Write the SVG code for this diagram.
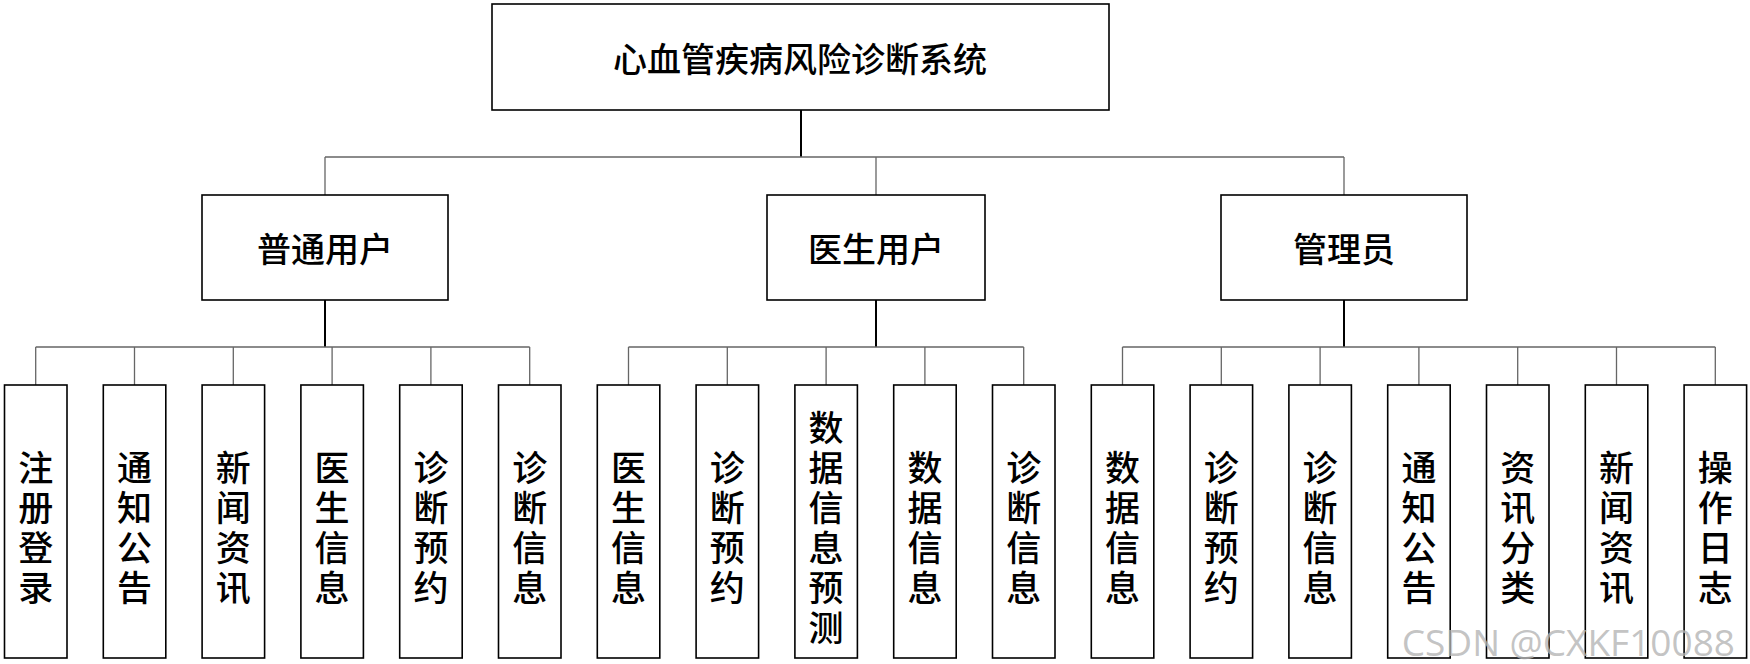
<svg xmlns="http://www.w3.org/2000/svg" width="1750" height="664" viewBox="0 0 1750 664">
<style>
.b{fill:#fff;stroke:#000;stroke-width:1.6}
.t{font-family:"Noto Sans CJK SC",sans-serif;font-size:34px;font-weight:500;text-anchor:middle;dominant-baseline:central;fill:#000}
.v{font-family:"Noto Sans CJK SC",sans-serif;font-size:35px;font-weight:500;text-anchor:middle;dominant-baseline:central;fill:#000}
.th{stroke:#000;stroke-width:2;fill:none}
.tn{stroke:#666;stroke-width:1.3;fill:none}
</style>
<g id="connectors">
<path class="th" d="M801 110V157M325 300V347M876 300V347M1344 300V347"/>
<path class="tn" d="M325 157H1344M325 157V195M876 157V195M1344 157V195"/>
<path class="tn" d="M35.7 347H529.7M628.5 347H1023.7M1122.5 347H1715.3"/>
<path class="tn" d="M35.7 347V385M134.5 347V385M233.3 347V385M332.1 347V385M430.9 347V385M529.7 347V385M628.5 347V385M727.3 347V385M826.1 347V385M924.9 347V385M1023.7 347V385M1122.5 347V385M1221.3 347V385M1320.1 347V385M1418.9 347V385M1517.7 347V385M1616.5 347V385M1715.3 347V385"/>
</g>
<g id="root"><rect class="b" x="492" y="4" width="617" height="106"/><text class="t" x="800" y="57">心血管疾病风险诊断系统</text></g>
<g id="u1"><rect class="b" x="202" y="195" width="246" height="105"/><text class="t" x="325" y="247">普通用户</text></g>
<g id="u2"><rect class="b" x="767" y="195" width="218" height="105"/><text class="t" x="876" y="247">医生用户</text></g>
<g id="u3"><rect class="b" x="1221" y="195" width="246" height="105"/><text class="t" x="1344" y="247">管理员</text></g>
<g id="leaves">
<g id="n0"><rect class="b" x="4.5" y="385" width="62.5" height="273"/><text class="v" x="35.7"><tspan x="35.7" y="465">注</tspan><tspan x="35.7" y="505">册</tspan><tspan x="35.7" y="545">登</tspan><tspan x="35.7" y="585">录</tspan></text></g>
<g id="n1"><rect class="b" x="103.3" y="385" width="62.5" height="273"/><text class="v"><tspan x="134.5" y="465">通</tspan><tspan x="134.5" y="505">知</tspan><tspan x="134.5" y="545">公</tspan><tspan x="134.5" y="585">告</tspan></text></g>
<g id="n2"><rect class="b" x="202.1" y="385" width="62.5" height="273"/><text class="v"><tspan x="233.3" y="465">新</tspan><tspan x="233.3" y="505">闻</tspan><tspan x="233.3" y="545">资</tspan><tspan x="233.3" y="585">讯</tspan></text></g>
<g id="n3"><rect class="b" x="300.9" y="385" width="62.5" height="273"/><text class="v"><tspan x="332.1" y="465">医</tspan><tspan x="332.1" y="505">生</tspan><tspan x="332.1" y="545">信</tspan><tspan x="332.1" y="585">息</tspan></text></g>
<g id="n4"><rect class="b" x="399.7" y="385" width="62.5" height="273"/><text class="v"><tspan x="430.9" y="465">诊</tspan><tspan x="430.9" y="505">断</tspan><tspan x="430.9" y="545">预</tspan><tspan x="430.9" y="585">约</tspan></text></g>
<g id="n5"><rect class="b" x="498.5" y="385" width="62.5" height="273"/><text class="v"><tspan x="529.7" y="465">诊</tspan><tspan x="529.7" y="505">断</tspan><tspan x="529.7" y="545">信</tspan><tspan x="529.7" y="585">息</tspan></text></g>
<g id="n6"><rect class="b" x="597.3" y="385" width="62.5" height="273"/><text class="v"><tspan x="628.5" y="465">医</tspan><tspan x="628.5" y="505">生</tspan><tspan x="628.5" y="545">信</tspan><tspan x="628.5" y="585">息</tspan></text></g>
<g id="n7"><rect class="b" x="696.1" y="385" width="62.5" height="273"/><text class="v"><tspan x="727.3" y="465">诊</tspan><tspan x="727.3" y="505">断</tspan><tspan x="727.3" y="545">预</tspan><tspan x="727.3" y="585">约</tspan></text></g>
<g id="n8"><rect class="b" x="794.9" y="385" width="62.5" height="273"/><text class="v"><tspan x="826.1" y="425">数</tspan><tspan x="826.1" y="465">据</tspan><tspan x="826.1" y="505">信</tspan><tspan x="826.1" y="545">息</tspan><tspan x="826.1" y="585">预</tspan><tspan x="826.1" y="625">测</tspan></text></g>
<g id="n9"><rect class="b" x="893.7" y="385" width="62.5" height="273"/><text class="v"><tspan x="924.9" y="465">数</tspan><tspan x="924.9" y="505">据</tspan><tspan x="924.9" y="545">信</tspan><tspan x="924.9" y="585">息</tspan></text></g>
<g id="n10"><rect class="b" x="992.5" y="385" width="62.5" height="273"/><text class="v"><tspan x="1023.7" y="465">诊</tspan><tspan x="1023.7" y="505">断</tspan><tspan x="1023.7" y="545">信</tspan><tspan x="1023.7" y="585">息</tspan></text></g>
<g id="n11"><rect class="b" x="1091.3" y="385" width="62.5" height="273"/><text class="v"><tspan x="1122.5" y="465">数</tspan><tspan x="1122.5" y="505">据</tspan><tspan x="1122.5" y="545">信</tspan><tspan x="1122.5" y="585">息</tspan></text></g>
<g id="n12"><rect class="b" x="1190.1" y="385" width="62.5" height="273"/><text class="v"><tspan x="1221.3" y="465">诊</tspan><tspan x="1221.3" y="505">断</tspan><tspan x="1221.3" y="545">预</tspan><tspan x="1221.3" y="585">约</tspan></text></g>
<g id="n13"><rect class="b" x="1288.9" y="385" width="62.5" height="273"/><text class="v"><tspan x="1320.1" y="465">诊</tspan><tspan x="1320.1" y="505">断</tspan><tspan x="1320.1" y="545">信</tspan><tspan x="1320.1" y="585">息</tspan></text></g>
<g id="n14"><rect class="b" x="1387.7" y="385" width="62.5" height="273"/><text class="v"><tspan x="1418.9" y="465">通</tspan><tspan x="1418.9" y="505">知</tspan><tspan x="1418.9" y="545">公</tspan><tspan x="1418.9" y="585">告</tspan></text></g>
<g id="n15"><rect class="b" x="1486.5" y="385" width="62.5" height="273"/><text class="v"><tspan x="1517.7" y="465">资</tspan><tspan x="1517.7" y="505">讯</tspan><tspan x="1517.7" y="545">分</tspan><tspan x="1517.7" y="585">类</tspan></text></g>
<g id="n16"><rect class="b" x="1585.3" y="385" width="62.5" height="273"/><text class="v"><tspan x="1616.5" y="465">新</tspan><tspan x="1616.5" y="505">闻</tspan><tspan x="1616.5" y="545">资</tspan><tspan x="1616.5" y="585">讯</tspan></text></g>
<g id="n17"><rect class="b" x="1684.1" y="385" width="62.5" height="273"/><text class="v"><tspan x="1715.3" y="465">操</tspan><tspan x="1715.3" y="505">作</tspan><tspan x="1715.3" y="545">日</tspan><tspan x="1715.3" y="585">志</tspan></text></g>
</g>
<text x="1735" y="656" style="font-family:'Open Sans',sans-serif;font-size:37px;fill:#b4b4b4;fill-opacity:0.8;text-anchor:end">CSDN @CXKF10088</text>
</svg>
